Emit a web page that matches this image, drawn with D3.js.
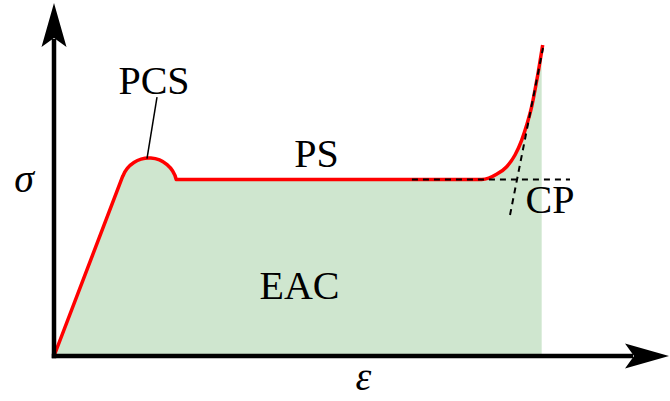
<!DOCTYPE html>
<html>
<head>
<meta charset="utf-8">
<script src="https://cdn.jsdelivr.net/npm/d3@7"></script>
<style>
  html, body { margin: 0; padding: 0; background: #fff; }
  svg { display: block; }
</style>
</head>
<body>
<svg id="chart" width="670" height="401"></svg>
<script>
// Schematic stress–strain curve of a cellular material (arbitrary units).

// Linear elastic branch: from the origin to where it meets the collapse peak.
const elasticStrain = [0, 11.19];
const elasticStress = [0, 29.27];

// Plastic collapse peak, drawn as a circular bump.
const peakCentre = [15.45, 27.64];
const peakRadius = 4.55;

// Plateau.
const plateauStress = 28.7;
const plateauStrain = [19.89, 69.54];

// Densification branch.
const densStrain = [72.03, 73.61, 74.96, 76.05, 76.86, 77.67, 78.21, 78.75, 79.46];
const densStress = [29.59, 30.78, 32.68, 35.12, 37.56, 40.54, 43.25, 46.23, 50.57];

// Strain up to which the absorbed energy is shaded.
const energyLimitStrain = 79.3;

// Construction lines locating the compaction point.
const cpPlateauLine = [[58.2, 28.7], [83.9, 28.7]];
const cpTangentLine = [[74.15, 22.93], [79.51, 50.08]];

const regionLabels = ["PCS", "PS", "EAC", "CP"];
const axisLabels = ["σ", "ε"];

const svg = d3.select("#chart");
const marks = svg.append("g");
const labels = svg.append("g");

const x = d3.scaleLinear().domain([0, 100]).range([54, 669]);
const y = d3.scaleLinear().domain([0, 57.4]).range([356, 3]);
const x0 = x(0), y0 = y(0);
const yTip = 3, xTip = 669;

// Labels (drawn on top of the marks group).
const labelPos = [[16.26, 42.6], [42.68, 30.73], [39.92, 9.27], [80.65, 23.3]];
regionLabels.forEach((t, i) => {
  labels.append("text")
    .attr("x", x(labelPos[i][0]))
    .attr("y", y(labelPos[i][1]))
    .attr("font-size", 40)
    .attr("text-anchor", "middle")
    .style("font-family", "Liberation Serif")
    .text(t);
});
labels.append("text")
  .attr("x", 24).attr("y", 192)
  .attr("font-size", 40)
  .attr("text-anchor", "middle")
  .style("font-family", "Liberation Serif")
  .style("font-style", "italic")
  .text(axisLabels[0]);
labels.append("text")
  .attr("x", (x0 + xTip) / 2 + 2).attr("y", 390)
  .attr("font-size", 40)
  .attr("text-anchor", "middle")
  .style("font-family", "Liberation Serif")
  .style("font-style", "italic")
  .text(axisLabels[1]);
labels.selectAll("text").each(function () { this.getComputedTextLength(); });

// Build the full curve into one sub-path (used for both fill and stroke).
function curvePath(ctx) {
  ctx.moveTo(x(elasticStrain[0]), y(elasticStress[0]));
  ctx.lineTo(x(elasticStrain[1]), y(elasticStress[1]));
  const cx = x(peakCentre[0]), cy = y(peakCentre[1]);
  const r = x(peakCentre[0] + peakRadius) - x(peakCentre[0]);
  const a0 = Math.atan2(y(elasticStress[1]) - cy, x(elasticStrain[1]) - cx);
  const a1 = Math.atan2(y(plateauStress) - cy, x(plateauStrain[0]) - cx);
  ctx.arc(cx, cy, r, a0, a1, false);
  ctx.lineTo(x(plateauStrain[0]), y(plateauStress));
  // Plateau end + densification, continued in the same sub-path.
  const cont = {
    moveTo: (px, py) => ctx.lineTo(px, py),
    lineTo: (px, py) => ctx.lineTo(px, py),
    bezierCurveTo: (a, b, c, d, e, f) => ctx.bezierCurveTo(a, b, c, d, e, f),
    closePath: () => ctx.closePath()
  };
  const pts = [[plateauStrain[0], plateauStress], [plateauStrain[1], plateauStress]]
    .concat(densStrain.map((s, i) => [s, densStress[i]]));
  d3.line().x(d => x(d[0])).y(d => y(d[1]))
    .curve(d3.curveMonotoneX).context(cont)(pts);
  return pts[pts.length - 1];
}

// Shaded energy-absorption area, limited to the shaded strain range.
const fillPath = d3.path();
const last = curvePath(fillPath);
fillPath.lineTo(x(last[0]), y(0));
fillPath.lineTo(x(0), y(0));
fillPath.closePath();
marks.append("clipPath").attr("id", "energyClip")
  .append("rect")
  .attr("x", x(0)).attr("y", 0)
  .attr("width", x(energyLimitStrain) - x(0))
  .attr("height", y(0));
marks.append("path")
  .attr("d", fillPath.toString())
  .attr("fill", "#cfe6cf")
  .attr("stroke", "none")
  .attr("clip-path", "url(#energyClip)");

// Red stress–strain curve.
const strokePath = d3.path();
curvePath(strokePath);
marks.append("path")
  .attr("d", strokePath.toString())
  .attr("fill", "none")
  .attr("stroke", "#ff0000")
  .attr("stroke-width", 3.5)
  .attr("stroke-linejoin", "round");

// Dashed construction lines.
const seg = d3.line().x(d => x(d[0])).y(d => y(d[1]));
[cpPlateauLine, cpTangentLine].forEach(l => {
  marks.append("path")
    .attr("d", seg(l))
    .attr("fill", "none")
    .attr("stroke", "#000")
    .attr("stroke-width", 2)
    .attr("stroke-dasharray", "6,5");
});

// Axes with stealth arrowheads.
const axisW = 4.5;
marks.append("line")
  .attr("x1", x0).attr("y1", y0 + axisW / 2)
  .attr("x2", x0).attr("y2", yTip + 36)
  .attr("stroke", "#000").attr("stroke-width", axisW);
marks.append("line")
  .attr("x1", x0 - axisW / 2).attr("y1", y0)
  .attr("x2", xTip - 36).attr("y2", y0)
  .attr("stroke", "#000").attr("stroke-width", axisW);
marks.append("path")
  .attr("d", `M${x0},${yTip} L${x0 + 12.5},${yTip + 44} L${x0},${yTip + 35} L${x0 - 12.5},${yTip + 44} Z`)
  .attr("fill", "#000");
marks.append("path")
  .attr("d", `M${xTip},${y0} L${xTip - 44},${y0 - 12.5} L${xTip - 35},${y0} L${xTip - 44},${y0 + 12.5} Z`)
  .attr("fill", "#000");

// Leader line from the PCS label to the peak.
marks.append("line")
  .attr("x1", x(16.75)).attr("y1", y(42.11))
  .attr("x2", x(15.12)).attr("y2", y(32.11))
  .attr("stroke", "#000").attr("stroke-width", 1.5);
</script>
</body>
</html>
